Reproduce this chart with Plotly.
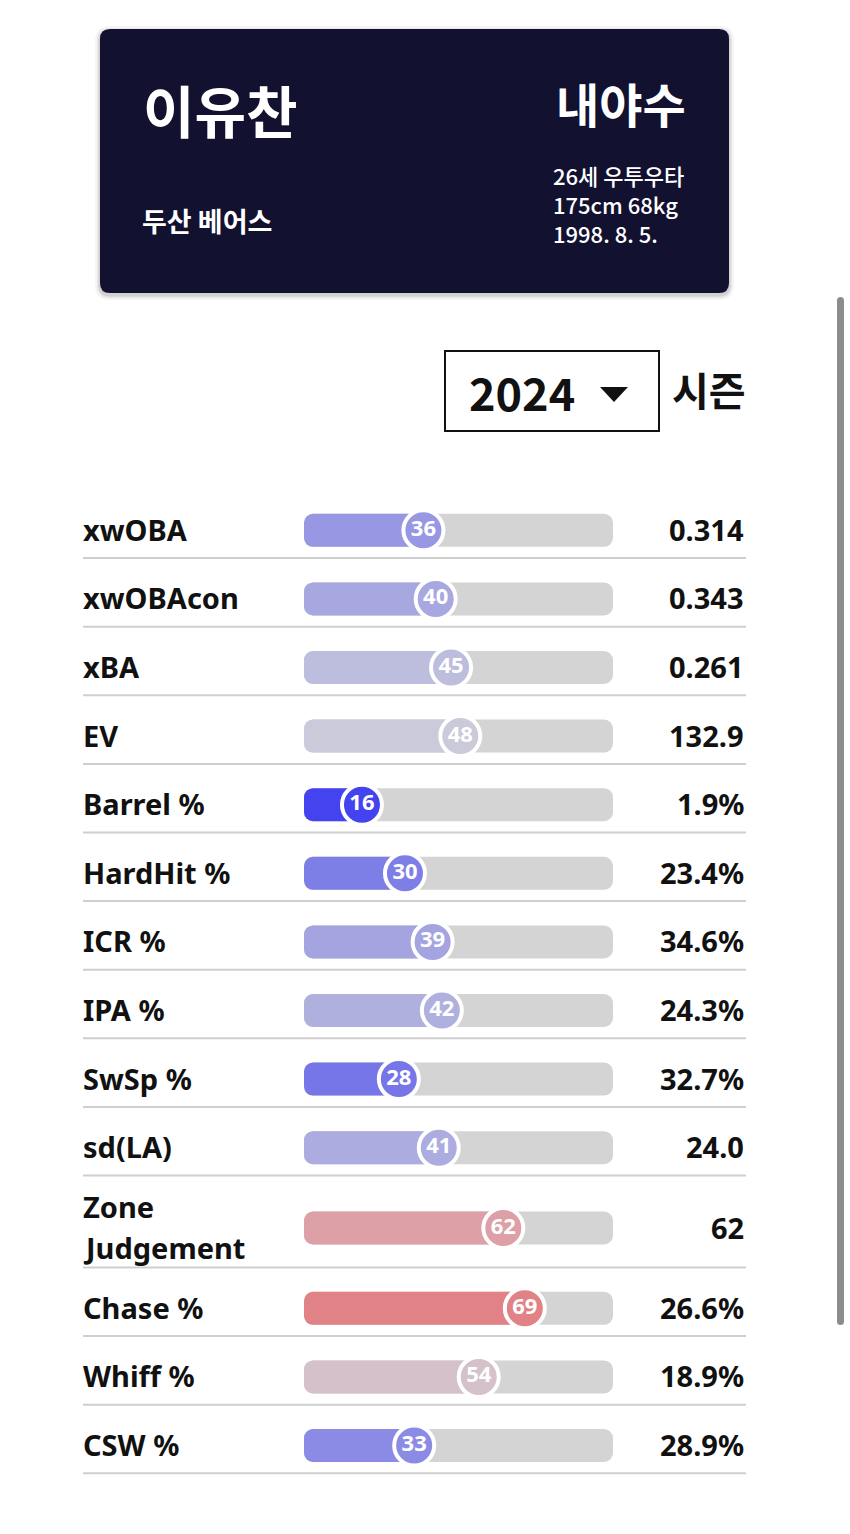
import plotly.graph_objects as go

# ---------------- data ----------------
metrics = ["xwOBA", "xwOBAcon", "xBA", "EV", "Barrel %", "HardHit %", "ICR %",
           "IPA %", "SwSp %", "sd(LA)", "Zone<br>Judgement", "Chase %",
           "Whiff %", "CSW %"]
percentiles = [36, 40, 45, 48, 16, 30, 39, 42, 28, 41, 62, 69, 54, 33]
values = ["0.314", "0.343", "0.261", "132.9", "1.9%", "23.4%", "34.6%",
          "24.3%", "32.7%", "24.0", "62", "26.6%", "18.9%", "28.9%"]

player_name = "이유찬"
team = "두산 베어스"
position = "내야수"
info_lines = ["26세 우투우타", "175cm 68kg", "1998. 8. 5."]
season = "2024"
season_label = "시즌"

# ---------------- layout constants ----------------
W, H = 850, 1534
FONT = "Noto Sans CJK KR"
LFONT = "Noto Sans"
ROW_TOP = 489.5
ROW_H = 68.6
ROW_H2 = 92.0
CENTER_SHIFT = 6.5
X0, X1 = -2.86, 97.7          # axis range so 0 -> ~313px, 100 -> ~620px
BAR_W = 33


def px(x):
    return x / W


def pct_color(p):
    blue, mid, red = (0, 0, 250), (210, 210, 218), (250, 0, 0)
    if p <= 50:
        t, a, b = p / 50, blue, mid
    else:
        t, a, b = (p - 50) / 50, mid, red
    return "rgb(%d,%d,%d)" % tuple(round(a[i] + (b[i] - a[i]) * t) for i in range(3))


centers, seps = [], []
y = ROW_TOP
for m in metrics:
    h = ROW_H2 if "<br>" in m else ROW_H
    centers.append(y + h / 2 + CENTER_SHIFT)
    y += h
    seps.append(y)

colors = [pct_color(p) for p in percentiles]
n = len(metrics)

fig = go.Figure()
fig.add_trace(go.Bar(
    x=[X1 - X0] * n, base=[X0] * n, y=centers, orientation="h", width=BAR_W,
    marker=dict(color="#d4d4d4", cornerradius=9, line=dict(width=0)),
    hoverinfo="skip", showlegend=False))
fig.add_trace(go.Bar(
    x=[p - X0 for p in percentiles], base=[X0] * n, y=centers, orientation="h",
    width=BAR_W, marker=dict(color=colors, cornerradius=9, line=dict(width=0)),
    hoverinfo="skip", showlegend=False))
fig.add_trace(go.Scatter(
    x=percentiles, y=centers, mode="markers+text",
    text=[str(p) for p in percentiles], textposition="middle center",
    marker=dict(size=40, color=colors, line=dict(color="white", width=4)),
    textfont=dict(color="white", size=22, family=LFONT, weight=700),
    hoverinfo="skip", showlegend=False, cliponaxis=False))


def rrect(x0, y0, x1, y1, r):
    return (f"M{px(x0 + r)},{y0} L{px(x1 - r)},{y0} Q{px(x1)},{y0} {px(x1)},{y0 + r} "
            f"L{px(x1)},{y1 - r} Q{px(x1)},{y1} {px(x1 - r)},{y1} L{px(x0 + r)},{y1} "
            f"Q{px(x0)},{y1} {px(x0)},{y1 - r} L{px(x0)},{y0 + r} Q{px(x0)},{y0} {px(x0 + r)},{y0} Z")


shapes = []
# card shadow + card
for d, op in [(5, 0.04), (3, 0.06), (1.5, 0.09)]:
    shapes.append(dict(type="path", xref="paper", yref="y",
                       path=rrect(100 - d, 29 - d + 2, 729 + d, 293 + d + 2, 10 + d),
                       fillcolor=f"rgba(0,0,0,{op})", line=dict(width=0), layer="below"))
shapes.append(dict(type="path", xref="paper", yref="y", path=rrect(100, 29, 729, 293, 10),
                   fillcolor="#131130", line=dict(width=0), layer="below"))
# scrollbar
shapes.append(dict(type="path", xref="paper", yref="y", path=rrect(837, 297, 844, 1325, 3.5),
                   fillcolor="#8c8c8c", line=dict(width=0), layer="below"))
# dropdown
shapes.append(dict(type="rect", xref="paper", yref="y", x0=px(445), x1=px(659), y0=351, y1=431,
                   line=dict(color="#111111", width=2), fillcolor="rgba(0,0,0,0)"))
shapes.append(dict(type="path", xref="paper", yref="y",
                   path=f"M{px(600)},387 L{px(628)},387 L{px(614)},402 Z",
                   fillcolor="#111111", line=dict(width=0)))
# separators
for s in seps:
    shapes.append(dict(type="line", xref="paper", yref="y", x0=px(83), x1=px(746), y0=s, y1=s,
                       line=dict(color="#cfcfcf", width=2), layer="below"))

ann = []


def text(t, x, y, size, anchor="left", color="#111111", weight=700, family=FONT):
    ann.append(dict(text=t, x=px(x), y=y, xref="paper", yref="y", xanchor=anchor,
                    yanchor="middle", align="left", showarrow=False,
                    font=dict(family=family, size=size, color=color, weight=weight)))


text(player_name, 141, 108, 56, color="white")
text(position, 688, 102, 47, anchor="right", color="white")
text(team, 140, 220, 27, color="white")
for i, line in enumerate(info_lines):
    text(line, 551, 175 + i * 29, 22, color="white", weight=500)
text(season, 467, 391, 45)
text(season_label, 670, 389, 40)

LBL = 29
for m, c, v in zip(metrics, centers, values):
    parts = m.split("<br>")
    if len(parts) == 1:
        text(m, 81, c - 1, LBL, family=LFONT)
    else:
        text(parts[0], 81, c - 21.5, LBL, family=LFONT)
        text(parts[1], 81, c + 19.5, LBL, family=LFONT)
    text(v, 746, c - 1, LBL, anchor="right", family=LFONT)

fig.update_layout(
    width=W, height=H, margin=dict(l=0, r=0, t=0, b=0),
    paper_bgcolor="white", plot_bgcolor="white", barmode="overlay",
    xaxis=dict(domain=[px(304), px(613)], range=[X0, X1], visible=False, fixedrange=True),
    yaxis=dict(domain=[0, 1], range=[H, 0], visible=False, fixedrange=True),
    shapes=shapes, annotations=ann, showlegend=False,
)
fig.write_html("out.html", config={"displayModeBar": False})
